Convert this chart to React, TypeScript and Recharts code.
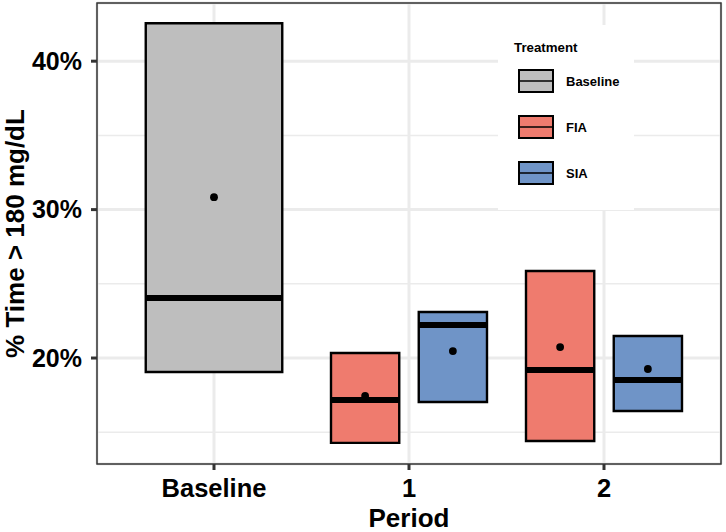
import React from 'react';
import {
  ComposedChart,
  XAxis,
  YAxis,
  CartesianGrid,
  ReferenceArea,
  ReferenceLine,
  Scatter,
  Legend,
} from 'recharts';

// Categories on the x axis
const periods: string[] = ['Baseline', '1', '2'];
const treatments: string[] = ['Baseline', 'FIA', 'SIA'];
const yTicks: number[] = [20, 30, 40];
const yMinorTicks: number[] = [15, 25, 35];

// Baseline (only in the Baseline period)
const baselinePeriods: string[] = ['Baseline'];
const baselineLower: number[] = [19.06];
const baselineUpper: number[] = [42.56];
const baselineMedian: number[] = [24.04];
const baselineMean: number[] = [30.84];

// FIA (periods 1 and 2)
const fiaPeriods: string[] = ['1', '2'];
const fiaLower: number[] = [14.28, 14.41];
const fiaUpper: number[] = [20.34, 25.86];
const fiaMedian: number[] = [17.17, 19.19];
const fiaMean: number[] = [17.44, 20.74];

// SIA (periods 1 and 2)
const siaPeriods: string[] = ['1', '2'];
const siaLower: number[] = [17.04, 16.43];
const siaUpper: number[] = [23.1, 21.48];
const siaMedian: number[] = [22.22, 18.52];
const siaMean: number[] = [20.47, 19.26];

const colors: Record<string, string> = {
  Baseline: '#BEBEBE',
  FIA: '#EF7B6E',
  SIA: '#6F94C7',
};

const FONT = '"Liberation Sans", Arial, sans-serif';
const Y_DOMAIN: [number, number] = [12.86, 43.92];
const X_DOMAIN: [number, number] = [-0.6, 2.6];

interface BoxRow {
  treatment: string;
  x: number;
  half: number;
  lower: number;
  upper: number;
  median: number;
  mean: number;
}

// dodge: Baseline sits alone (width 0.7), FIA/SIA share a period (width 0.35 each)
const buildRows = (
  treatment: string,
  ps: string[],
  lower: number[],
  upper: number[],
  median: number[],
  mean: number[],
  offset: number,
  half: number
): BoxRow[] =>
  ps.map((p, i) => ({
    treatment,
    x: periods.indexOf(p) + offset,
    half,
    lower: lower[i],
    upper: upper[i],
    median: median[i],
    mean: mean[i],
  }));

const rows: BoxRow[] = [
  ...buildRows('Baseline', baselinePeriods, baselineLower, baselineUpper, baselineMedian, baselineMean, 0, 0.35),
  ...buildRows('FIA', fiaPeriods, fiaLower, fiaUpper, fiaMedian, fiaMean, -0.225, 0.175),
  ...buildRows('SIA', siaPeriods, siaLower, siaUpper, siaMedian, siaMean, 0.225, 0.175),
];

const MeanDot = (props: any) => <circle cx={props.cx} cy={props.cy} r={3.9} fill="#000" />;

const renderLegend = () => (
  <svg width={136} height={185} style={{ display: 'block', background: '#fff' }}>
    <text x={16} y={27} fontFamily={FONT} fontWeight="bold" fontSize={13.3} fill="#000">
      Treatment
    </text>
    {treatments.map((t, i) => {
      const top = 45 + i * 46;
      return (
        <g key={t}>
          <rect x={21} y={top} width={34} height={22} fill={colors[t]} stroke="#000" strokeWidth={2} />
          <line x1={21} x2={55} y1={top + 11} y2={top + 11} stroke="#000" strokeWidth={1.4} />
          <text x={68} y={top + 11} dy="0.355em" fontFamily={FONT} fontWeight="bold" fontSize={13} fill="#000">
            {t}
          </text>
        </g>
      );
    })}
  </svg>
);

const App: React.FC = () => {
  return (
    <div style={{ position: 'absolute', left: 0, top: 0, width: 726, height: 532, background: '#fff' }}>
      <ComposedChart width={726} height={532} margin={{ top: 3, right: 5, bottom: 0, left: 0 }}>
        {/* minor grid */}
        <CartesianGrid
          horizontalValues={yMinorTicks}
          vertical={false}
          stroke="#EBEBEB"
          strokeWidth={1.5}
        />
        {/* major grid */}
        <CartesianGrid stroke="#EBEBEB" strokeWidth={3} />

        <XAxis
          type="number"
          dataKey="x"
          domain={X_DOMAIN}
          allowDataOverflow
          ticks={[0, 1, 2]}
          tickFormatter={(v: number) => periods[v] ?? ''}
          axisLine={false}
          tickLine={{ stroke: '#333', strokeWidth: 3 }}
          tickSize={6}
          tickMargin={9}
          height={68}
          tick={{ fontFamily: FONT, fontWeight: 'bold', fontSize: 25.5, fill: '#000' }}
          label={{
            value: 'Period',
            position: 'insideBottom',
            offset: 5,
            style: { fontFamily: FONT, fontWeight: 'bold', fontSize: 26, fill: '#000' },
          }}
        />
        <YAxis
          type="number"
          dataKey="y"
          domain={Y_DOMAIN}
          allowDataOverflow
          ticks={yTicks}
          tickFormatter={(v: number) => `${v}%`}
          axisLine={false}
          tickLine={{ stroke: '#333', strokeWidth: 3 }}
          tickSize={6}
          tickMargin={9}
          width={97}
          tick={{ fontFamily: FONT, fontWeight: 'bold', fontSize: 25, fill: '#000' }}
          label={{
            value: '% Time > 180 mg/dL',
            angle: -90,
            position: 'insideLeft',
            offset: 15,
            style: { textAnchor: 'middle', fontFamily: FONT, fontWeight: 'bold', fontSize: 26, fill: '#000' },
          }}
        />

        {/* boxes (lower to upper) */}
        {rows.map((r, i) => (
          <ReferenceArea
            key={`box-${i}`}
            x1={r.x - r.half}
            x2={r.x + r.half}
            y1={r.lower}
            y2={r.upper}
            fill={colors[r.treatment]}
            fillOpacity={1}
            stroke="#000"
            strokeWidth={2.4}
          />
        ))}

        {/* medians */}
        {rows.map((r, i) => (
          <ReferenceLine
            key={`med-${i}`}
            segment={[
              { x: r.x - r.half, y: r.median },
              { x: r.x + r.half, y: r.median },
            ]}
            stroke="#000"
            strokeWidth={6}
          />
        ))}

        {/* panel border */}
        <ReferenceArea
          x1={X_DOMAIN[0]}
          x2={X_DOMAIN[1]}
          y1={Y_DOMAIN[0]}
          y2={Y_DOMAIN[1]}
          fill="none"
          stroke="#333"
          strokeWidth={1.5}
        />

        {/* means */}
        {treatments.map((t) => (
          <Scatter
            key={`mean-${t}`}
            name={t}
            data={rows.filter((r) => r.treatment === t).map((r) => ({ x: r.x, y: r.mean }))}
            dataKey="y"
            fill="#000"
            shape={MeanDot}
            isAnimationActive={false}
            legendType="none"
          />
        ))}

        <Legend
          layout="vertical"
          align="center"
          verticalAlign="middle"
          content={renderLegend}
          wrapperStyle={{ left: 498, top: 25, width: 136, height: 185 }}
        />
      </ComposedChart>
    </div>
  );
};

export default App;
